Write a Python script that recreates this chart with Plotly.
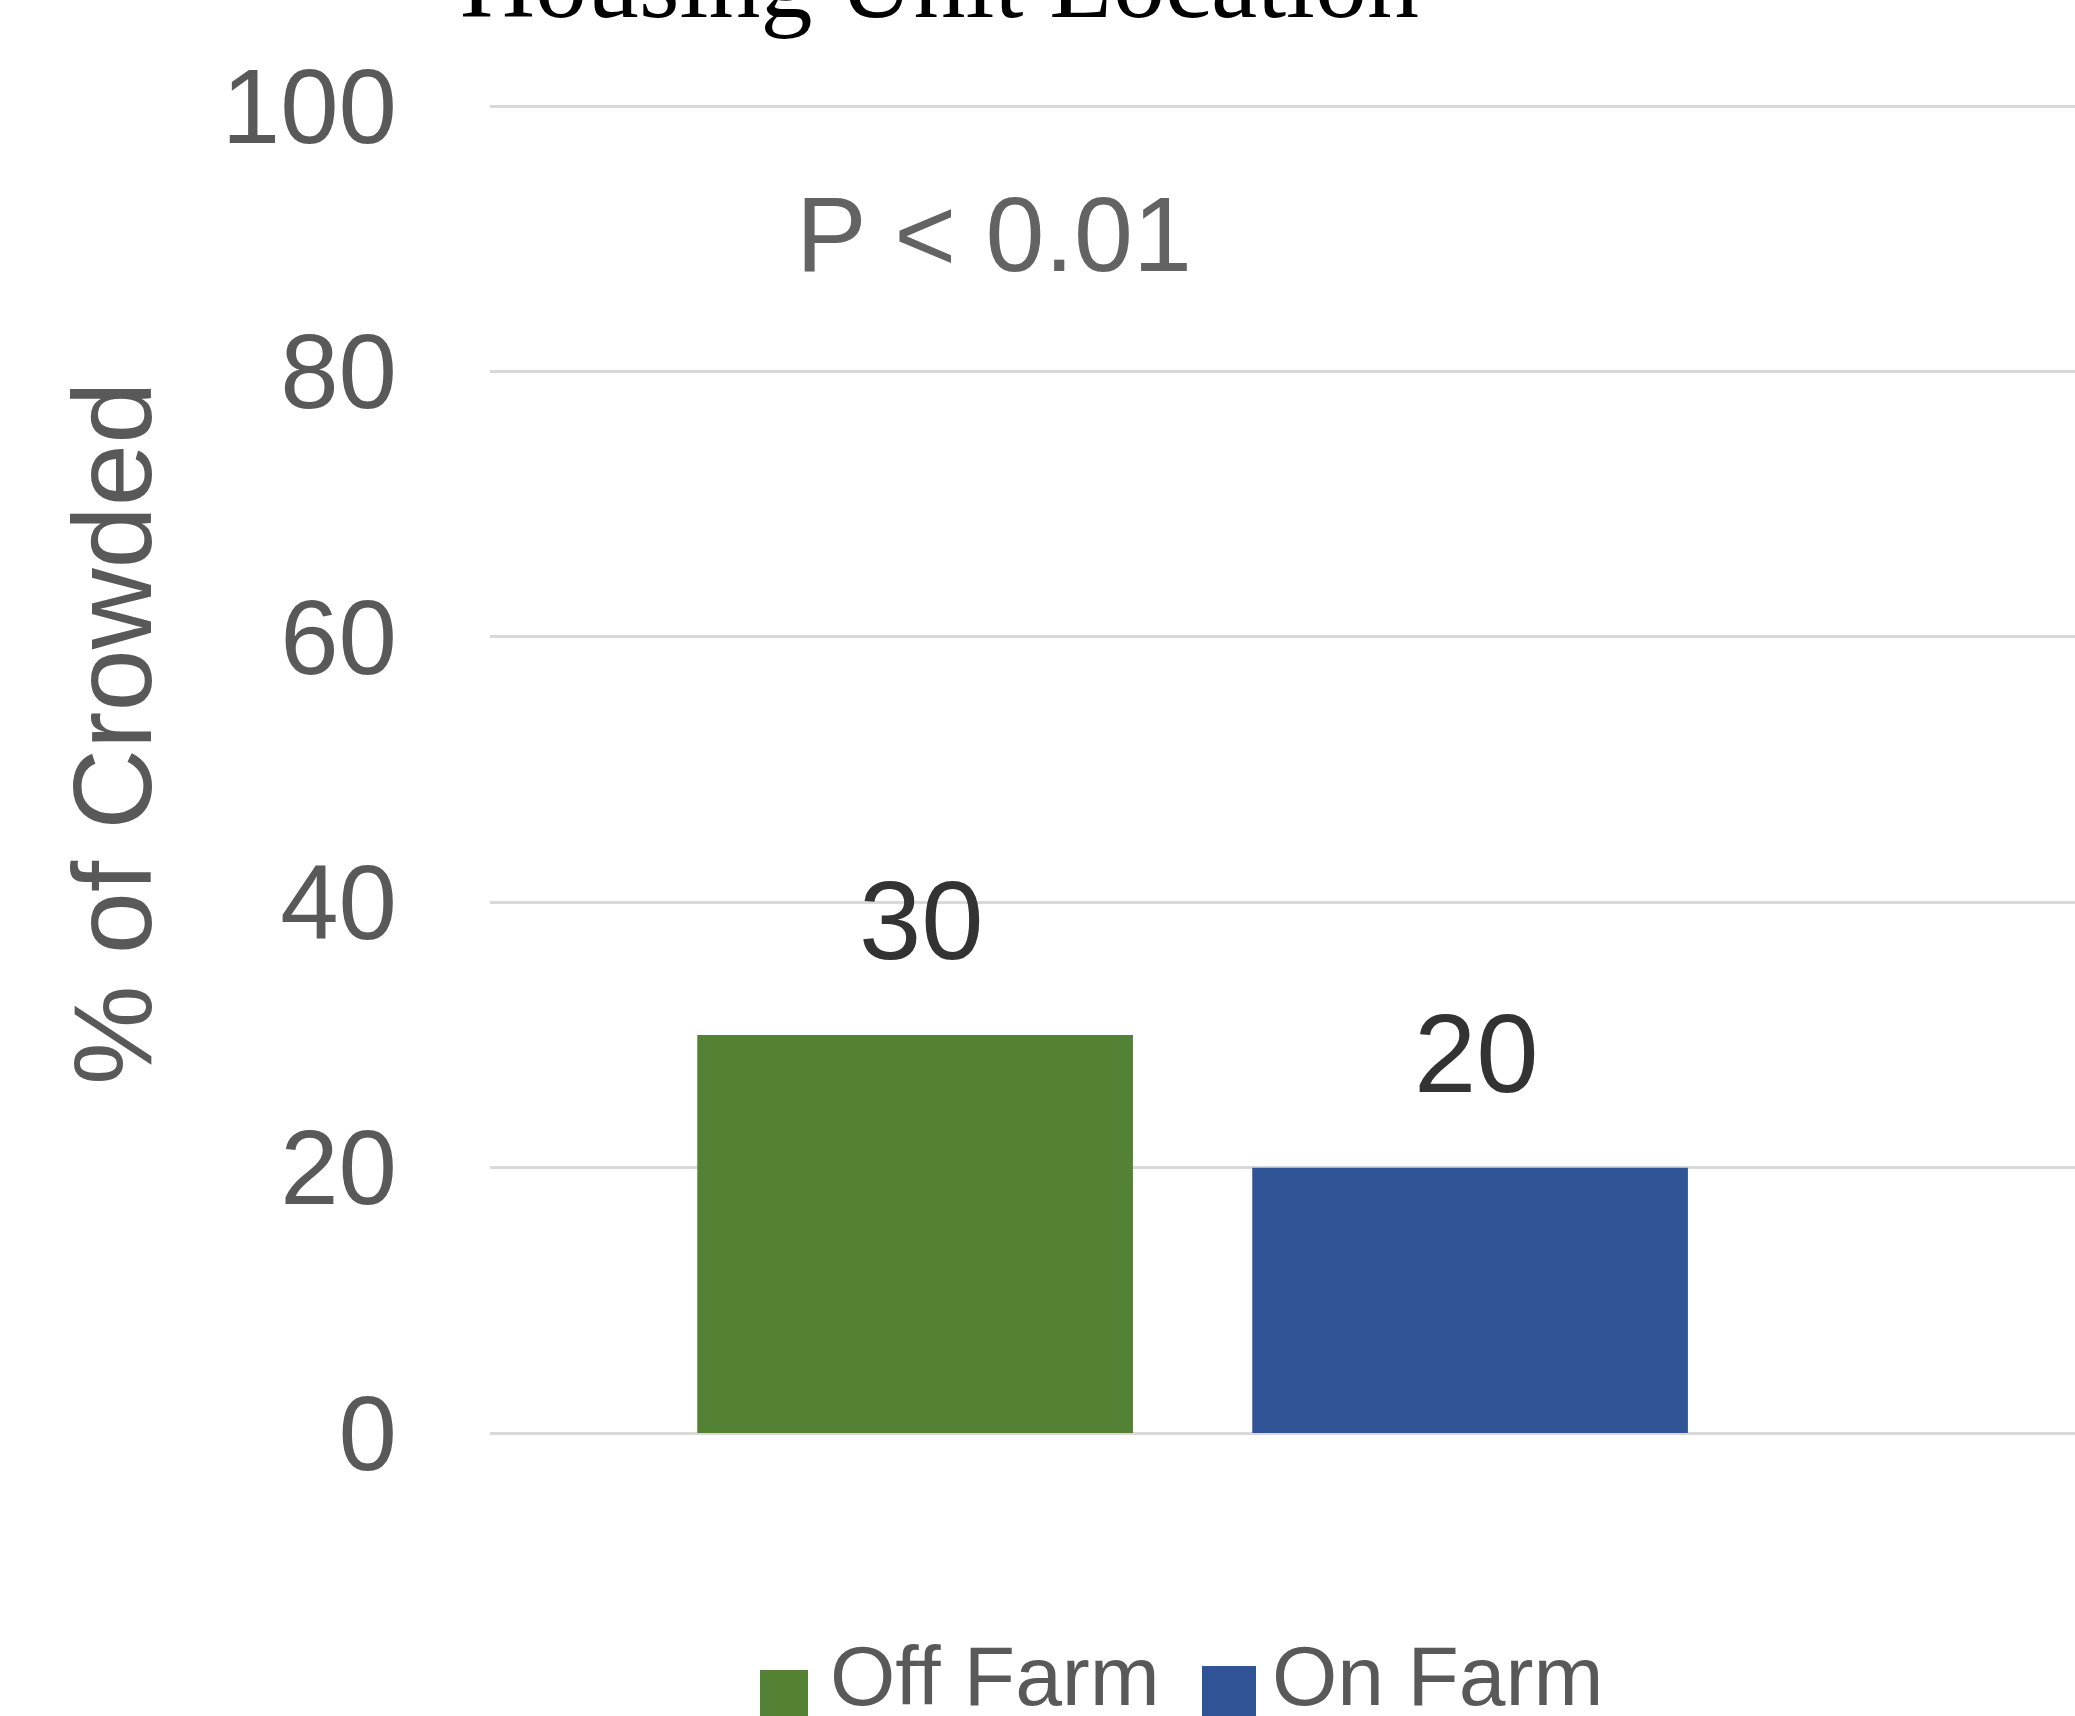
import plotly.graph_objects as go

# ---- data ----
categories = ["Off Farm", "On Farm"]
values = [30, 20]
bar_colors = ["#548235", "#2F5597"]
y_ticks = [0, 20, 40, 60, 80, 100]
title_text = "Housing Unit Location"
y_title = "% of Crowded"
p_text = "P < 0.01"

W, H = 2075, 1716
L, R, T, B = 490, 0, 93, 283
PW, PH = W - L - R, H - T - B
Y_MAX = 101  # a little head-room so the 100 gridline is drawn


def px(xp):
    return (xp - L) / PW


def py(yp):
    return (H - B - yp) / PH


fig = go.Figure()
for cat, val, col in zip(categories, values, bar_colors):
    fig.add_trace(go.Bar(x=[cat], y=[val], marker=dict(color=col, line=dict(width=0)),
                         width=0.785, name=cat, showlegend=False))

annotations = []
for cat, val in zip(categories, values):
    annotations.append(dict(x=cat, y=val, xref="x", yref="y", text=str(val), showarrow=False,
                            yanchor="middle", yshift=114, xshift=6,
                            font=dict(family="Liberation Sans", size=112, color="#333333")))

annotations.append(dict(x=px(939), y=py(-18), xref="paper", yref="paper", text=title_text,
                        showarrow=False, xanchor="center", yanchor="middle",
                        font=dict(family="Liberation Serif", size=104, color="#000000")))
annotations.append(dict(x=px(994), y=py(234), xref="paper", yref="paper", text=p_text,
                        showarrow=False, xanchor="center", yanchor="middle",
                        font=dict(family="Liberation Sans", size=106, color="#636363")))
annotations.append(dict(x=px(112), y=py(734), xref="paper", yref="paper", text=y_title,
                        showarrow=False, xanchor="center", yanchor="middle", textangle=-90,
                        font=dict(family="Liberation Sans", size=112, color="#595959")))

# custom legend (large square swatches)
legend_boxes = [(760, 808, 1670), (1202, 1256, 1666)]
legend_text_x = [828, 1270]
shapes = []
for cat, col, (x0, x1, y0), tx in zip(categories, bar_colors, legend_boxes, legend_text_x):
    shapes.append(dict(type="rect", xref="paper", yref="paper", x0=px(x0), x1=px(x1),
                       y0=py(y0), y1=py(y0 + (x1 - x0)), fillcolor=col, line=dict(width=0)))
    annotations.append(dict(x=px(tx), y=py(1676), xref="paper", yref="paper", text=cat,
                            showarrow=False, xanchor="left", yanchor="middle",
                            font=dict(family="Liberation Sans", size=84, color="#595959")))

fig.update_layout(
    width=W, height=H,
    margin=dict(l=L, r=R, t=T, b=B, autoexpand=False),
    paper_bgcolor="white", plot_bgcolor="white",
    showlegend=False,
    annotations=annotations,
    shapes=shapes,
    xaxis=dict(range=[-0.766, 2.09], showticklabels=False, showgrid=False, zeroline=False,
               showline=False, ticks=""),
    yaxis=dict(range=[0, Y_MAX], tickvals=y_ticks, ticks="", showline=False,
               showgrid=True, gridcolor="#d9d9d9", gridwidth=3,
               zeroline=True, zerolinecolor="#d9d9d9", zerolinewidth=3,
               tickfont=dict(family="Liberation Sans", size=105, color="#595959"),
               ticklabelstandoff=92, automargin=False),
)

fig.write_html("out.html")
